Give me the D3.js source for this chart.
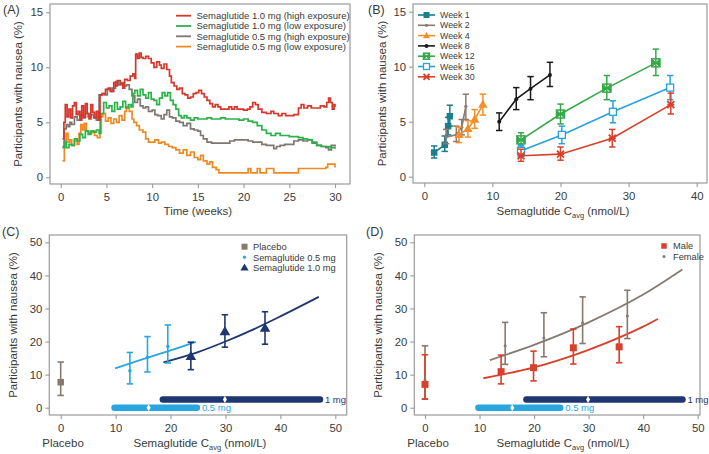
<!DOCTYPE html>
<html><head><meta charset="utf-8">
<script src="https://cdn.jsdelivr.net/npm/d3@7"></script>
<style>
body{margin:0;background:#fff}
svg{display:block}
text{font-family:"Liberation Sans",Arial,Helvetica,sans-serif;fill:#3a3a3a}
</style>
</head><body>
<svg id="chart" width="709" height="454"></svg>
<script>
// ---------------- DATA ----------------
// Panel A: [week, % with nausea]
const aRedHigh = [[0.2,3.5],[0.35,5.0],[0.5,6.6],[0.7,5.5],[0.9,6.2],[1.1,5.4],[1.3,6.5],[1.5,6.8],[1.7,5.7],[1.9,6.0],[2.1,5.2],[2.3,6.5],[2.5,5.5],[2.7,6.7],[2.9,5.8],[3.1,5.3],[3.3,6.6],[3.5,5.9],[3.7,5.4],[3.9,6.0],[4.1,5.2],[4.3,7.5],[4.6,7.6],[4.9,8.0],[5.2,8.1],[5.5,7.8],[5.8,8.6],[6.0,8.3],[6.2,8.8],[6.5,8.5],[6.8,8.1],[7.0,8.9],[7.3,8.8],[7.6,9.2],[7.9,9.4],[8.1,9.0],[8.2,11.2],[8.4,10.8],[8.6,11.3],[8.8,10.9],[9.0,10.8],[9.3,11.0],[9.6,10.8],[9.9,10.4],[10.2,10.0],[10.5,10.5],[10.8,10.2],[11.0,9.9],[11.3,10.3],[11.6,9.8],[11.9,9.2],[12.1,8.6],[12.4,8.3],[12.7,8.0],[13.0,8.1],[13.3,7.6],[13.6,7.5],[13.9,7.2],[14.2,7.3],[14.5,7.6],[14.8,7.7],[15.1,7.9],[15.4,7.6],[15.7,7.3],[16.0,7.0],[16.3,6.7],[16.6,6.4],[16.9,6.6],[17.2,6.4],[17.5,6.2],[18.0,6.2],[18.4,6.4],[18.7,6.2],[19.0,6.4],[19.3,6.2],[19.7,6.2],[20.0,6.1],[20.4,6.2],[20.7,6.4],[21.0,6.8],[21.3,6.6],[21.6,6.2],[22.0,5.9],[22.5,5.8],[23.0,6.0],[23.3,5.8],[23.8,5.6],[24.2,5.8],[24.6,5.6],[25.5,5.7],[26.0,6.3],[26.3,6.6],[26.6,6.3],[27.0,6.5],[27.4,6.3],[28.0,6.3],[28.4,6.5],[28.8,6.4],[29.1,6.8],[29.3,7.2],[29.5,6.8],[29.7,6.2],[29.9,6.6],[30.0,6.4]];
const aGreenLow = [[0.2,2.7],[0.4,3.2],[0.6,2.7],[0.9,3.0],[1.2,2.9],[1.5,3.5],[1.8,3.3],[2.1,3.9],[2.4,3.6],[2.7,4.2],[3.0,3.9],[3.3,4.2],[3.6,4.1],[3.9,4.3],[4.2,4.0],[4.4,5.8],[4.7,6.8],[5.0,6.3],[5.3,6.5],[5.6,6.0],[5.9,6.8],[6.2,6.2],[6.5,6.4],[6.8,6.9],[7.1,6.3],[7.4,6.6],[7.7,6.4],[7.9,7.6],[8.1,7.9],[8.4,7.4],[8.7,8.0],[9.0,7.5],[9.3,7.2],[9.6,7.7],[9.9,7.1],[10.2,7.0],[10.5,6.6],[10.8,7.2],[11.1,7.7],[11.4,7.4],[11.7,7.7],[12.0,7.0],[12.3,6.6],[12.6,6.2],[12.9,5.6],[13.2,5.4],[13.5,5.6],[13.8,5.4],[14.2,5.2],[14.6,5.4],[15.0,5.3],[15.5,5.3],[16.0,5.4],[16.5,5.3],[17.0,5.3],[17.5,5.4],[18.0,5.3],[19.0,5.3],[19.5,5.2],[20.0,5.3],[20.5,5.1],[21.0,5.0],[21.5,4.7],[22.0,4.3],[22.5,4.0],[23.0,3.8],[23.5,4.0],[24.0,3.8],[25.0,3.7],[26.0,3.6],[26.5,3.5],[27.0,3.4],[27.5,3.2],[28.0,2.9],[28.5,2.8],[29.0,2.8],[29.5,2.7],[30.0,2.6]];
const aGrayHigh = [[0.2,2.8],[0.4,4.4],[0.6,4.8],[0.8,4.6],[1.0,5.0],[1.2,4.8],[1.5,5.5],[1.8,5.2],[2.1,5.7],[2.4,5.4],[2.7,5.8],[3.0,5.5],[3.3,5.7],[3.6,5.4],[3.9,5.2],[4.2,7.5],[4.5,7.6],[4.8,7.5],[5.1,8.0],[5.4,7.8],[5.7,8.1],[6.0,8.7],[6.3,8.4],[6.6,8.6],[6.9,8.3],[7.2,8.4],[7.5,8.0],[7.8,7.4],[8.1,6.8],[8.4,7.1],[8.7,6.5],[9.0,6.3],[9.3,6.4],[9.6,6.0],[10.0,6.1],[10.3,5.7],[10.6,5.6],[11.0,5.3],[11.3,5.7],[11.6,6.1],[11.9,5.5],[12.2,5.4],[12.6,5.1],[13.0,5.0],[13.4,4.7],[13.8,4.9],[14.2,4.4],[14.6,4.3],[15.0,4.2],[15.3,3.8],[15.6,3.5],[16.0,3.2],[16.5,3.1],[17.0,3.1],[18.0,3.1],[18.5,3.3],[19.0,3.4],[20.0,3.4],[20.5,3.3],[21.0,3.2],[22.0,3.0],[22.5,2.9],[23.0,2.9],[23.3,2.6],[23.6,2.8],[24.0,2.9],[24.5,3.0],[25.0,3.0],[25.5,3.3],[26.0,3.4],[26.5,3.3],[27.0,3.4],[27.5,3.1],[28.0,2.9],[28.5,2.8],[29.0,2.7],[29.3,2.5],[29.6,2.9],[30.0,2.8]];
const aOrangeLow = [[0.2,1.5],[0.4,3.3],[0.6,4.0],[0.8,3.2],[1.0,3.4],[1.2,2.9],[1.5,3.3],[1.8,3.0],[2.0,4.0],[2.2,4.8],[2.4,4.3],[2.6,4.9],[2.8,4.2],[3.1,4.0],[3.4,4.2],[3.7,3.8],[4.0,3.6],[4.3,5.5],[4.6,5.8],[4.9,5.1],[5.2,5.4],[5.5,4.9],[5.8,5.3],[6.1,5.0],[6.4,5.6],[6.7,5.2],[7.0,6.0],[7.2,6.4],[7.5,6.0],[7.8,5.3],[8.0,5.0],[8.3,4.7],[8.6,4.3],[9.0,4.1],[9.3,3.5],[9.6,3.2],[10.0,3.2],[10.3,3.4],[10.7,3.1],[11.0,3.2],[11.4,3.0],[11.8,2.8],[12.2,2.7],[12.6,2.5],[13.0,2.2],[13.4,2.5],[13.8,2.0],[14.2,2.3],[14.6,1.8],[15.0,1.6],[15.3,2.0],[15.6,1.5],[16.0,1.2],[16.3,1.4],[16.6,0.9],[17.0,0.7],[17.3,0.4],[18.0,0.4],[19.0,0.4],[20.0,0.4],[20.5,0.8],[20.8,0.4],[21.5,0.8],[21.8,0.4],[22.5,0.8],[23.3,0.4],[24.0,0.4],[25.0,0.4],[25.8,0.4],[26.0,0.8],[27.0,0.8],[28.0,0.8],[29.0,0.9],[29.2,1.2],[29.8,1.2],[30.0,0.9]];
const aLegend = ["Semaglutide 1.0 mg (high exposure)","Semaglutide 1.0 mg (low exposure)","Semaglutide 0.5 mg (high exposure)","Semaglutide 0.5 mg (low exposure)"];
const aTicksX = [0,5,10,15,20,25,30];
const aTicksY = [0,5,10,15];

// Panel B: [Cavg, %, lower, upper]
const bWeek1  = [[1.45,2.2,1.7,2.8],[3.0,2.9,2.3,3.7],[3.5,4.6,3.8,5.4],[3.75,5.5,4.6,6.5]];
const bWeek2  = [[3.2,3.6,3.0,4.3],[4.7,3.8,3.2,4.6],[5.5,4.5,3.8,5.2],[6.1,6.4,5.2,7.5]];
const bWeek4  = [[5.1,3.8,3.1,4.5],[6.4,4.35,3.6,5.1],[7.4,5.2,4.4,6.1],[8.6,6.55,5.6,7.5]];
const bWeek8  = [[11.0,5.0,4.2,5.8],[13.5,7.05,6.1,8.1],[15.6,8.0,7.0,9.1],[18.45,9.25,8.2,10.4]];
const bWeek12 = [[14.2,3.35,2.8,4.0],[20.0,5.7,4.8,6.6],[26.8,8.05,7.0,9.2],[34.0,10.35,9.2,11.6]];
const bWeek16 = [[14.2,2.35,1.8,2.9],[20.2,3.8,3.0,4.6],[27.7,5.9,4.9,6.9],[36.1,8.1,7.0,9.2]];
const bWeek30 = [[14.2,1.9,1.4,2.5],[20.0,2.05,1.5,2.7],[27.6,3.5,2.7,4.3],[36.2,6.55,5.7,7.6]];
const bLegend = ["Week 1","Week 2","Week 4","Week 8","Week 12","Week 16","Week 30"];
const bTicksX = [0,10,20,30,40];
const bTicksY = [0,5,10,15];

// Panel C
const cPlacebo = [[0,7.7,3.7,13.8]];
const cSema05  = [[12.6,11.2,7.2,16.7],[15.8,15.2,10.8,21.5],[19.5,18.5,13.5,25.0]];
const cSema10  = [[23.7,15.5,11.5,19.8],[29.9,23.0,18.3,28.1],[37.2,24.0,19.2,29.0]];
const cFit05   = [[9.9,11.9],[15,14.7],[20,17.3],[24.6,19.9]];
const cFit10   = [[18.7,13.7],[25,16.8],[30,20.0],[35,23.6],[40,27.6],[47,33.5]];
const cLegend  = ["Placebo","Semaglutide 0.5 mg","Semaglutide 1.0 mg"];
// exposure ranges: [low, high, median marker]
const expo05 = [9.8,24.8,16.0];
const expo10 = [18.6,47.2,29.9];
const expoLabels = ["0.5 mg","1 mg"];
const cdTicksX = [0,10,20,30,40,50];
const cdTicksY = [0,10,20,30,40,50];

// Panel D
const dMale    = [[0,7.05,2.6,16.0],[13.95,10.9,7.2,15.9],[19.9,12.1,8.1,17.1],[27.2,18.1,13.2,23.8],[35.6,18.4,13.6,24.5]];
const dFemale  = [[0,8.4,2.6,18.7],[14.7,18.7,13.1,25.8],[21.8,21.1,15.4,28.7],[28.9,25.7,19.4,33.5],[37.1,27.7,20.9,35.5]];
const dFitMale   = [[10.7,8.9],[20,12.2],[30,17.5],[40,24.5],[42.7,26.8]];
const dFitFemale = [[11.9,14.4],[20,19.0],[30,25.8],[40,34.2],[47.2,41.8]];
const dLegend = ["Male","Female"];

// ---------------- DRAWING ----------------
const svg = d3.select("#chart");
const FRAME = "#9a9a9a";
const TICKFS = "11.3px", TITLEFS = "11.5px";

function panel(o){
  const g = svg.append("g");
  const x = d3.scaleLinear().domain(o.xd).range(o.xr);
  const y = d3.scaleLinear().domain(o.yd).range(o.yr);
  g.append("rect").attr("x",o.box[0]).attr("y",o.box[1])
   .attr("width",o.box[2]-o.box[0]).attr("height",o.box[3]-o.box[1])
   .attr("fill","none").attr("stroke",FRAME).attr("stroke-width",1.2);
  const ax = g.append("g").attr("transform",`translate(0,${o.box[3]})`)
    .call(d3.axisBottom(x).tickValues(o.tx).tickSize(4).tickPadding(5).tickFormat(d3.format("d")));
  const ay = g.append("g").attr("transform",`translate(${o.box[0]},0)`)
    .call(d3.axisLeft(y).tickValues(o.ty).tickSize(4).tickPadding(3).tickFormat(d3.format("d")));
  [ax,ay].forEach(a=>{
    a.select(".domain").remove();
    a.selectAll(".tick line").attr("stroke",FRAME).attr("stroke-width",1.1);
    a.selectAll(".tick text").attr("fill","#3a3a3a").style("font-size",TICKFS)
      .style("font-family",'"Liberation Sans",Arial,sans-serif');
  });
  g.append("text").attr("x",o.lab[0]).attr("y",o.lab[1]).style("font-size","12.5px").text(o.label);
  g.append("text").attr("transform",`translate(${o.ytx},${(o.box[1]+o.box[3])/2}) rotate(-90)`)
   .attr("text-anchor","middle").style("font-size",TITLEFS).text("Participants with nausea (%)");
  return {g,x,y};
}

function cavgTitle(g, cx, cy){
  const t = g.append("text").attr("x",cx).attr("y",cy).attr("text-anchor","middle").style("font-size",TITLEFS);
  t.append("tspan").text("Semaglutide C");
  t.append("tspan").attr("dy",3).style("font-size","7.5px").text("avg");
  t.append("tspan").attr("dy",-3).text(" (nmol/L)");
}

function errBars(g,x,y,data,color,cap,sw){
  data.forEach(d=>{
    const cx = x(d[0]);
    g.append("line").attr("x1",cx).attr("x2",cx).attr("y1",y(d[2])).attr("y2",y(d[3]))
      .attr("stroke",color).attr("stroke-width",sw);
    [d[2],d[3]].forEach(v=>g.append("line").attr("x1",cx-cap).attr("x2",cx+cap)
      .attr("y1",y(v)).attr("y2",y(v)).attr("stroke",color).attr("stroke-width",sw));
  });
}

function marker(g,type,cx,cy,color,s){
  switch(type){
    case "square": g.append("rect").attr("x",cx-s/2).attr("y",cy-s/2).attr("width",s).attr("height",s).attr("fill",color); break;
    case "dot": g.append("circle").attr("cx",cx).attr("cy",cy).attr("r",s/2).attr("fill",color); break;
    case "triangle": g.append("path").attr("d",d3.symbol(d3.symbolTriangle, s*s*0.6)()).attr("transform",`translate(${cx},${cy+0.5})`).attr("fill",color); break;
    case "boxx":
      g.append("rect").attr("x",cx-s/2).attr("y",cy-s/2).attr("width",s).attr("height",s).attr("fill","none").attr("stroke",color).attr("stroke-width",1.5);
      g.append("path").attr("d",`M${cx-s/2},${cy-s/2}L${cx+s/2},${cy+s/2}L${cx+s/2},${cy-s/2}L${cx-s/2},${cy+s/2}Z`).attr("fill",color).attr("stroke",color).attr("stroke-width",1);
      break;
    case "open": g.append("rect").attr("x",cx-s/2).attr("y",cy-s/2).attr("width",s).attr("height",s).attr("fill","#fff").attr("stroke",color).attr("stroke-width",1.3); break;
    case "x":
      g.append("path").attr("d",`M${cx-s/2},${cy-s/2}L${cx+s/2},${cy+s/2}M${cx-s/2},${cy+s/2}L${cx+s/2},${cy-s/2}M${cx-s/2},${cy}L${cx+s/2},${cy}`).attr("stroke",color).attr("stroke-width",1.8);
      break;
  }
}

// ---- Panel A ----
(function(){
  const p = panel({xd:[0,30],xr:[60.7,335],yd:[0,15],yr:[177.3,12.3],box:[50,4,350,184],
    tx:aTicksX,ty:aTicksY,label:"(A)",lab:[3,14],ytx:22});
  const series = [[aRedHigh,"#d6372b"],[aGreenLow,"#2bb14a"],[aGrayHigh,"#7f7772"],[aOrangeLow,"#ef8a22"]];
  const line = d3.line().x(d=>p.x(d[0])).y(d=>p.y(d[1])).curve(d3.curveStepAfter);
  [3,2,1,0].forEach(i=>{
    p.g.append("path").attr("d",line(series[i][0])).attr("fill","none")
      .attr("stroke",series[i][1]).attr("stroke-width",1.7);
  });
  aLegend.forEach((t,i)=>{
    const yy = 15.7 + i*10.3;
    p.g.append("line").attr("x1",176).attr("x2",191).attr("y1",yy).attr("y2",yy).attr("stroke",series[i][1]).attr("stroke-width",1.8);
    p.g.append("text").attr("x",196.5).attr("y",yy+3.3).style("font-size","9.5px").text(t);
  });
  p.g.append("text").attr("x",(60.7+335)/2).attr("y",215).attr("text-anchor","middle").style("font-size",TITLEFS).text("Time (weeks)");
})();

// ---- Panel B ----
(function(){
  const p = panel({xd:[0,40],xr:[424.3,696.7],yd:[0,15],yr:[176.7,11.7],box:[413,4,707,183],
    tx:bTicksX,ty:bTicksY,label:"(B)",lab:[368,14],ytx:386});
  const series = [
    [bWeek1,"#1b7e8d","square",6.5],
    [bWeek2,"#8a7a70","dot",3.2],
    [bWeek4,"#f08f2c","triangle",8],
    [bWeek8,"#1a1a1a","dot",4],
    [bWeek12,"#35a94a","boxx",8],
    [bWeek16,"#2aa0dd","open",7],
    [bWeek30,"#d8402b","x",7]];
  const line = d3.line().x(d=>p.x(d[0])).y(d=>p.y(d[1]));
  series.forEach(s=>{
    p.g.append("path").attr("d",line(s[0])).attr("fill","none").attr("stroke",s[1]).attr("stroke-width",1.6);
    errBars(p.g,p.x,p.y,s[0],s[1],3.2,1.5);
    s[0].forEach(d=>marker(p.g,s[2],p.x(d[0]),p.y(d[1]),s[1],s[3]));
  });
  bLegend.forEach((t,i)=>{
    const yy = 15 + i*10.3;
    const s = series[i];
    p.g.append("line").attr("x1",418).attr("x2",435).attr("y1",yy).attr("y2",yy).attr("stroke",s[1]).attr("stroke-width",1.6);
    marker(p.g,s[2],426.5,yy,s[1],Math.min(s[3],6));
    p.g.append("text").attr("x",440).attr("y",yy+3).style("font-size","8.8px").text(t);
  });
  cavgTitle(p.g,563,215);
})();

function exposure(p){
  const bars = [[expo05,0,"#29a6df",expoLabels[0]],[expo10,2.5,"#1f3670",expoLabels[1]]];
  bars.forEach(b=>{
    const yy = p.y(b[1]);
    p.g.append("line").attr("x1",p.x(b[0][0])).attr("x2",p.x(b[0][1])).attr("y1",yy).attr("y2",yy)
      .attr("stroke",b[2]).attr("stroke-width",6.5).attr("stroke-linecap","round");
    p.g.append("path").attr("d",d3.symbol(d3.symbolDiamond,14)()).attr("transform",`translate(${p.x(b[0][2])},${yy})`).attr("fill","#fff");
    p.g.append("text").attr("x",p.x(b[0][1])+5).attr("y",yy+3.5).style("font-size","9.5px").style("fill",b[2]).text(b[3]);
  });
}

// ---- Panel C ----
(function(){
  const p = panel({xd:[0,50],xr:[60.7,335.3],yd:[0,50],yr:[407.7,242.3],box:[49.3,235,346.7,415],
    tx:cdTicksX,ty:cdTicksY,label:"(C)",lab:[2,236],ytx:17});
  exposure(p);
  const line = d3.line().x(d=>p.x(d[0])).y(d=>p.y(d[1])).curve(d3.curveMonotoneX);
  p.g.append("path").attr("d",line(cFit05)).attr("fill","none").attr("stroke","#29a6df").attr("stroke-width",1.8);
  p.g.append("path").attr("d",line(cFit10)).attr("fill","none").attr("stroke","#1f3670").attr("stroke-width",1.8);
  errBars(p.g,p.x,p.y,cPlacebo,"#8a7868",3.2,1.6);
  cPlacebo.forEach(d=>marker(p.g,"square",p.x(d[0]),p.y(d[1]),"#8a7868",6.5));
  errBars(p.g,p.x,p.y,cSema05,"#29a6df",3.2,1.6);
  cSema05.forEach(d=>marker(p.g,"dot",p.x(d[0]),p.y(d[1]),"#29a6df",3.5));
  errBars(p.g,p.x,p.y,cSema10,"#1f3670",3.2,1.6);
  cSema10.forEach(d=>marker(p.g,"triangle",p.x(d[0]),p.y(d[1]),"#1f3670",9));
  const lm = [["square","#8a7868",6],["dot","#29a6df",3.2],["triangle","#1f3670",7]];
  cLegend.forEach((t,i)=>{
    const yy = 246.7 + i*10.5;
    marker(p.g,lm[i][0],244.5,yy,lm[i][1],lm[i][2]);
    p.g.append("text").attr("x",253).attr("y",yy+3.3).style("font-size","9.3px").text(t);
  });
  p.g.append("text").attr("x",63).attr("y",447).attr("text-anchor","middle").style("font-size",TITLEFS).text("Placebo");
  cavgTitle(p.g,200,447);
})();

// ---- Panel D ----
(function(){
  const p = panel({xd:[0,50],xr:[425,697.7],yd:[0,50],yr:[407.7,242.3],box:[414.3,235,700,415],
    tx:cdTicksX,ty:cdTicksY,label:"(D)",lab:[366,236],ytx:382});
  exposure(p);
  const line = d3.line().x(d=>p.x(d[0])).y(d=>p.y(d[1])).curve(d3.curveMonotoneX);
  p.g.append("path").attr("d",line(dFitFemale)).attr("fill","none").attr("stroke","#857a70").attr("stroke-width",1.8);
  p.g.append("path").attr("d",line(dFitMale)).attr("fill","none").attr("stroke","#d8402b").attr("stroke-width",1.8);
  errBars(p.g,p.x,p.y,dFemale,"#857a70",3.2,1.6);
  errBars(p.g,p.x,p.y,dMale,"#d8402b",3.2,1.6);
  dMale.forEach(d=>marker(p.g,"square",p.x(d[0]),p.y(d[1]),"#d8402b",7));
  dFemale.forEach(d=>marker(p.g,"dot",p.x(d[0]),p.y(d[1]),"#857a70",3));
  const lm = [["square","#d8402b",5.5],["dot","#857a70",3]];
  dLegend.forEach((t,i)=>{
    const yy = 246 + i*10.5;
    marker(p.g,lm[i][0],664,yy,lm[i][1],lm[i][2]);
    p.g.append("text").attr("x",673).attr("y",yy+3.3).style("font-size","9.3px").text(t);
  });
  p.g.append("text").attr("x",428).attr("y",447).attr("text-anchor","middle").style("font-size",TITLEFS).text("Placebo");
  cavgTitle(p.g,563,447);
})();
</script>
</body></html>
